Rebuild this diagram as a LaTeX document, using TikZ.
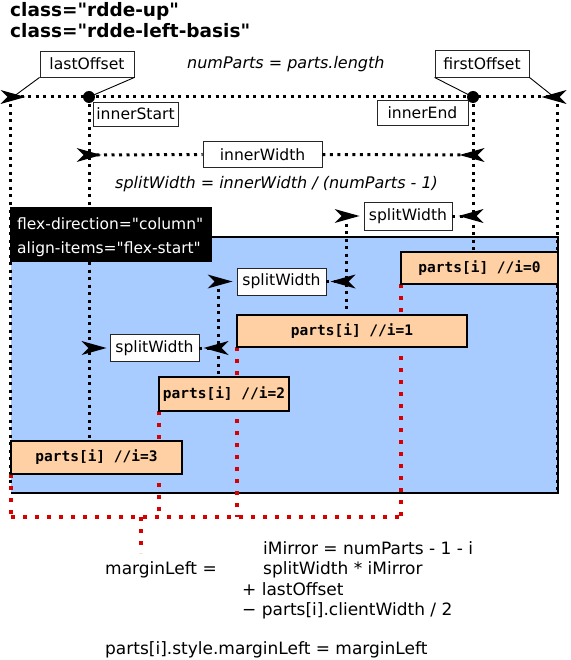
\documentclass[tikz,border=0pt]{standalone}
\usepackage{fontspec}
\setmainfont{DejaVu Sans}[Ligatures=TeXOff,ItalicFont={DejaVu Sans Oblique},BoldFont={DejaVu Sans Bold}]
\setmonofont{DejaVu Sans Mono}[BoldFont={DejaVu Sans Mono Bold}]
\definecolor{boxblue}{RGB}{168,204,255}
\definecolor{partfill}{RGB}{255,208,164}
\definecolor{dimred}{RGB}{215,0,0}
\begin{document}
\begin{tikzpicture}[x=1pt,y=-1pt,
  dim/.style={line width=3pt, dash pattern=on 3pt off 4.5pt},
  reddim/.style={draw=dimred, line width=3.5pt, dash pattern=on 3.5pt off 8.5pt},
  tag/.style={draw=black!85, line width=0.9pt, fill=white, inner sep=0pt,
    font=\fontsize{15.6}{18}\selectfont},
  part/.style={draw=black, line width=1.8pt, fill=partfill, inner sep=0pt,
    font=\fontsize{14.5}{16}\selectfont\ttfamily\bfseries},
  leader/.style={line width=0.9pt},
  txt/.style={anchor=base west, inner sep=0pt},
  mk/.pic={\fill (-12.5,-7) -- (12.5,0) -- (-12.5,7) -- (-5.5,0) -- cycle;}
]
\useasboundingbox (0,0) rectangle (570,660);

% headings
\node[txt, font=\fontsize{18.5}{22}\selectfont\bfseries] (t1) at (10,17) {class="rdde-up"};
\node[txt, font=\fontsize{18.5}{22}\selectfont\bfseries] (t2) at (10,38) {class="rdde-left-basis"};

% flex container
\fill[boxblue] (11,237) rectangle (558,493);
\draw[line width=1.8pt] (11,237) -- (558,237) -- (558,493) -- (11,493);

% reference points
\coordinate (tl) at (13,97);
\coordinate (tr) at (554,97);
\coordinate (is) at (89,97);
\coordinate (ie) at (473,97);
\coordinate (cl) at (10,97);
\coordinate (cr) at (557,97);

% vertical extension lines
\draw[dim] (cl) -- (10,493);
\draw[dim] (cr) -- (557,493);
\draw[dim] (is) -- (89,441);
\draw[dim] (ie) -- (473,252);
\draw[dim] (346,216) -- (346,315);
\draw[dim] (218,281) -- (218,377);

% marginLeft guides from the left edge of each part
\coordinate (g0) at (401,284);
\coordinate (g1) at (237,347);
\coordinate (g2) at (159,411);
\coordinate (g3) at (11,474);
\coordinate (r0) at (401,517);
\coordinate (r3) at (11,517);
\draw[reddim] (g0) -- (r0);
\draw[reddim] (g1) -- (237,517);
\draw[reddim] (g2) -- (159,517);
\draw[reddim] (g3) -- (r3);
\draw[reddim] (r3) -- (r0);
\draw[reddim] (141,517) -- (141,553);

% parts
\node[part, minimum width=157pt, minimum height=32pt] (p0) at (479.5,268) {parts[i] //i=0};
\node[part, minimum width=230pt, minimum height=32pt] (p1) at (352,331) {parts[i] //i=1};
\node[part, minimum width=130pt, minimum height=34pt] (p2) at (224,394) {parts[i] //i=2};
\node[part, minimum width=171pt, minimum height=33pt] (p3) at (96.5,457.5) {parts[i] //i=3};

% flex properties
\node[fill=black, anchor=north west, minimum width=202pt, minimum height=55pt, inner sep=0pt] (flex) at (10,207) {};
\node[txt, text=white, font=\fontsize{15.5}{18}\selectfont] (fd) at (17,229) {flex-direction="column"};
\node[txt, text=white, font=\fontsize{15.5}{18}\selectfont] (ai) at (17,253) {align-items="flex-start"};

% outer dimension line
\draw[dim] (tl) -- (tr);
\pic at (tl) {mk};
\pic[rotate=180] at (tr) {mk};
\fill (is) circle (6pt);
\fill (ie) circle (6pt);

\node[tag, minimum width=94pt, minimum height=26pt] (lo) at (87,64) {lastOffset};
\node[tag, minimum width=94pt, minimum height=27pt] (fo) at (482,63.5) {firstOffset};
\draw[leader] (lo.south west) -- (tl);
\draw[leader] (lo.south east) -- (is);
\draw[leader] (fo.south west) -- (ie);
\draw[leader] (fo.south east) -- (tr);

\node[txt, font=\fontsize{16}{18}\selectfont\itshape] (np) at (187,69) {numParts = parts.length};
\node[tag, minimum width=85pt, minimum height=24pt] (ist) at (135.5,114) {innerStart};
\node[tag, minimum width=91pt, minimum height=25pt] (ien) at (422.5,112.5) {innerEnd};

% innerWidth
\coordinate (iwl) at (89,155);
\coordinate (iwr) at (472,155);
\node[tag, minimum width=119pt, minimum height=26pt] (iw) at (262.5,154.5) {innerWidth};
\draw[dim] (iwl) -- (iw.west);
\draw[dim] (iw.east) -- (iwr);
\pic at (iwl) {mk};
\pic[rotate=180] at (iwr) {mk};

\node[txt, font=\fontsize{16}{18}\selectfont\itshape] (sf) at (115,189) {splitWidth = innerWidth / (numParts - 1)};

% splitWidth steps
\node[tag, minimum width=88pt, minimum height=28pt] (sw1) at (408,216) {splitWidth};
\coordinate (s1l) at (347,216);
\coordinate (s1r) at (471,216);
\draw[dim] (sw1.east) -- (s1r);
\pic at (s1l) {mk};
\pic[rotate=180] at (s1r) {mk};

\node[tag, minimum width=89pt, minimum height=27pt] (sw2) at (281.5,281.5) {splitWidth};
\coordinate (s2l) at (220,281.5);
\coordinate (s2r) at (343,281.5);
\draw[dim] (sw2.east) -- (s2r);
\pic at (s2l) {mk};
\pic[rotate=180] at (s2r) {mk};

\node[tag, minimum width=89pt, minimum height=27pt] (sw3) at (154.5,348) {splitWidth};
\coordinate (s3l) at (94,348);
\coordinate (s3r) at (216,348);
\draw[dim] (sw3.east) -- (s3r);
\pic at (s3l) {mk};
\pic[rotate=180] at (s3r) {mk};

% formula
\begin{scope}[font=\fontsize{17}{20}\selectfont]
\node[txt] (ml) at (105,574) {marginLeft =};
\node[txt] (f1) at (263,554) {iMirror = numParts - 1 - i};
\node[txt] (f2) at (263,574) {splitWidth * iMirror};
\node[txt] (f3) at (242,595) {+ lastOffset};
\node[txt] (f4) at (242,615) {− parts[i].clientWidth / 2};
\node[txt] (f5) at (105,654) {parts[i].style.marginLeft = marginLeft};
\end{scope}
\end{tikzpicture}
\end{document}
